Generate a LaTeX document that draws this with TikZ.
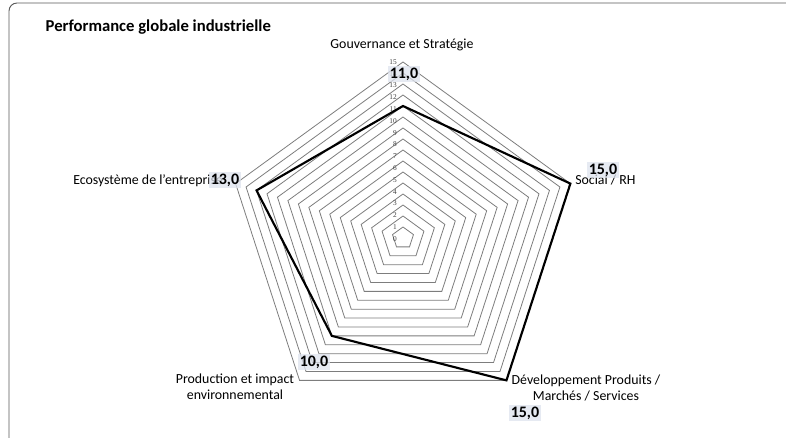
\documentclass[tikz,border=0pt]{standalone}
\usepackage{fontspec}
\setmainfont{Carlito}
\newfontfamily\tickfont{Liberation Serif}
\definecolor{lblfill}{RGB}{222,227,238}
\definecolor{ringgray}{RGB}{125,125,125}
\tikzset{ring/.style={draw=ringgray, line width=0.6pt},
  axlbl/.style={font=\fontsize{10.4}{12}\selectfont, inner sep=0pt, align=center},
  vallbl/.style={fill=lblfill, fill opacity=0.75, text opacity=1, font=\bfseries\fontsize{12}{13}\selectfont, inner sep=1.2pt},
  ticklbl/.style={font=\tickfont\fontsize{5.5}{6}\selectfont, text=darkgray, anchor=east, inner sep=0pt}}

\begin{document}
\begin{tikzpicture}[x=0.75pt,y=0.75pt]
\useasboundingbox (-403,-200) rectangle (383,238);
\draw[gray!70!black, line width=0.7pt, rounded corners=6pt] (-394,-201) -- (-394,235) -- (390,235);
\node[anchor=west, font=\bfseries\fontsize{12.5}{14}\selectfont] (title) at (-362,211) {Performance globale industrielle};
% grille
\foreach \v in {0,...,15}{
  \pgfmathsetmacro{\r}{11*(\v+1)}
  \draw[ring] (90:\r) -- (18:\r) -- (-54:\r) -- (-126:\r) -- (162:\r) -- cycle;
  \node[ticklbl] (t\v) at (-6,{-1+11.8*\v}) {\v};
}
% serie
\draw[line width=1.6pt, line join=miter] (90:132) -- (18:176) -- (-54:176) -- (-126:121) -- (162:154) -- cycle;
% axes
\node[axlbl] (gov) at (-1,193) {Gouvernance et Stratégie};
\node[axlbl, anchor=west] (soc) at (172,58) {Social / RH};
\node[axlbl] (dev) at (183,-150) {Développement Produits /\\ Marchés / Services};
\node[axlbl] (prod) at (-168,-149) {Production et impact\\ environnemental};
\node[axlbl, anchor=west] (eco) at (-330,57) {Ecosystème de l'entreprise};
% valeurs
\node[vallbl] (vgov) at (1,164) {11,0};
\node[vallbl] (vsoc) at (200,68) {15,0};
\node[vallbl] (vdev) at (122,-175) {15,0};
\node[vallbl] (vprod) at (-89,-124) {10,0};
\node[vallbl] (veco) at (-178,58) {13,0};
\end{tikzpicture}
\end{document}
